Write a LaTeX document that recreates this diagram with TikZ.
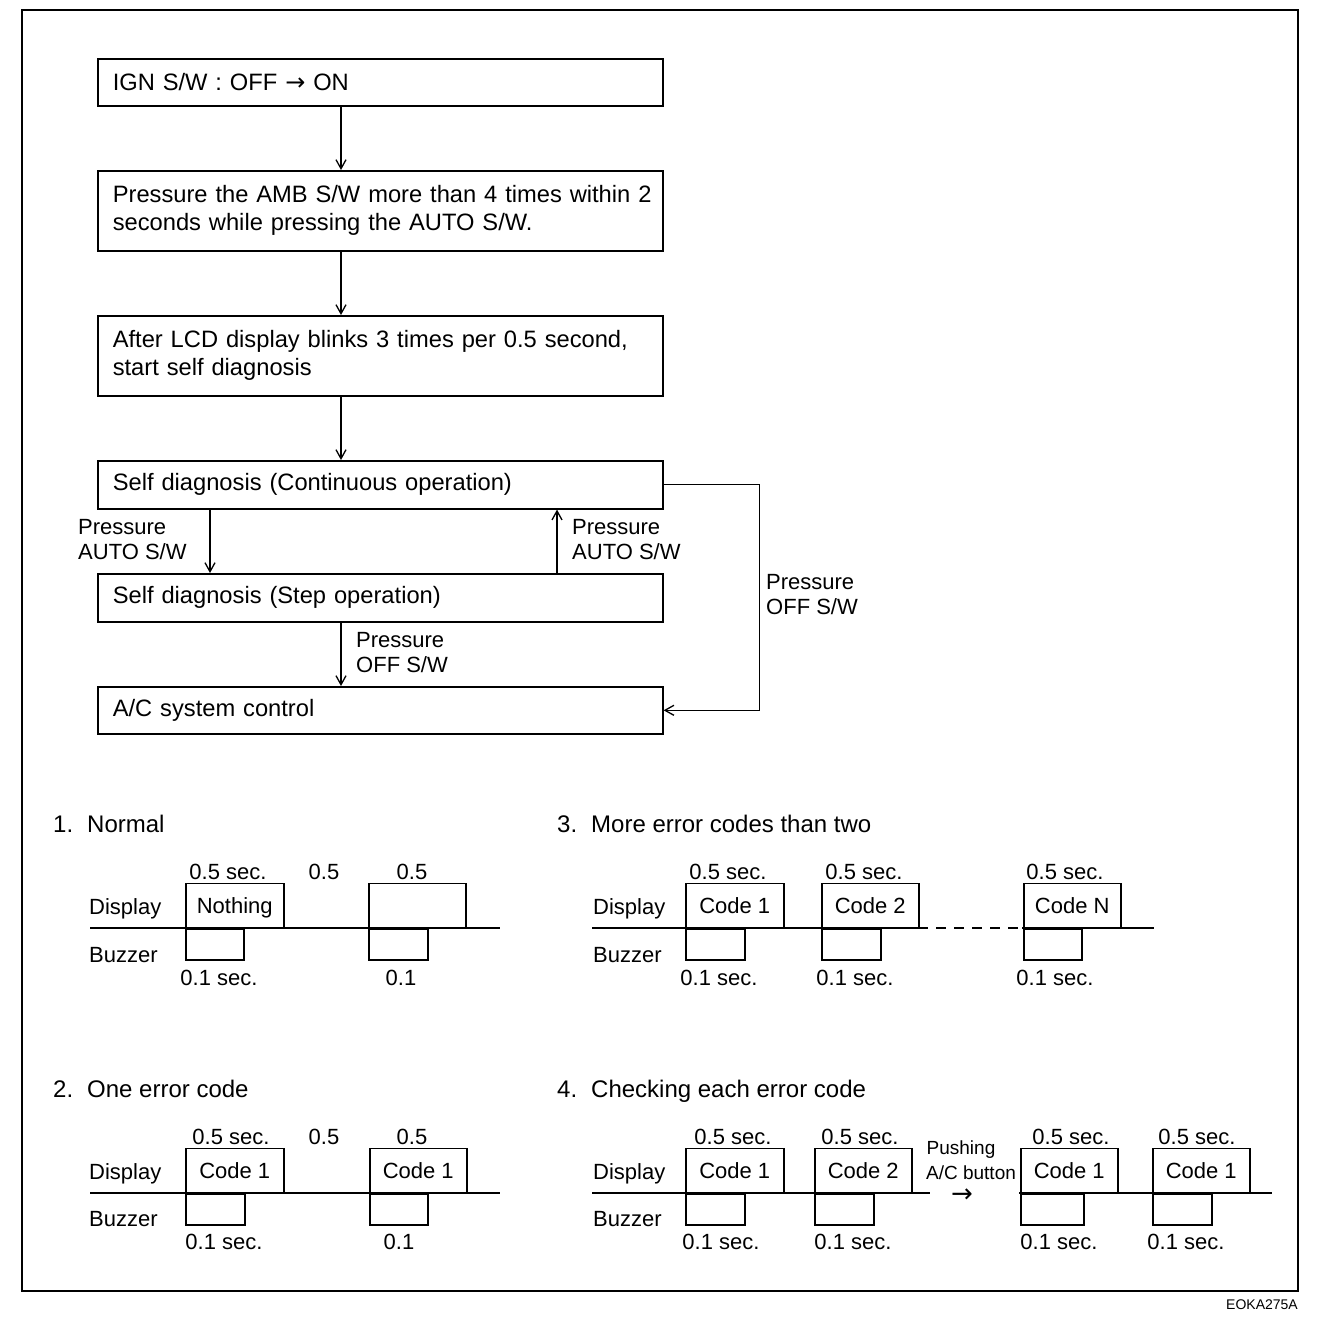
\documentclass[tikz,border=0pt]{standalone}
\usepackage{fontspec}
\setmainfont{Liberation Sans}
\newfontfamily\arrowfont{DejaVu Sans}
\usetikzlibrary{arrows.meta}
\begin{document}
\begin{tikzpicture}[x=1pt,y=-1pt,
  box/.style={draw, line width=1.6pt, anchor=north west, minimum width=565pt, text width=535pt, align=left, inner xsep=15pt, inner ysep=0pt, font=\fontsize{23.7}{28}\selectfont},
  conn/.style={line width=1.3pt, -{Straight Barb[length=9pt,width=10pt,line width=1.3pt]}},
  lbl/.style={anchor=west, align=left, inner sep=0pt, font=\fontsize{22}{25}\selectfont},
  head/.style={anchor=west, inner sep=0pt, text height=17pt, text depth=0pt, font=\fontsize{24}{28}\selectfont},
  disp/.style={draw, line width=1.5pt, anchor=south west, minimum height=44pt, inner sep=0pt, text height=16pt, text depth=0pt, font=\fontsize{22}{26}\selectfont},
  buzz/.style={draw, line width=1.5pt, anchor=north west, minimum height=31pt, inner sep=0pt},
  base/.style={line width=2.6pt},
  tl/.style={inner sep=0pt, text height=16pt, text depth=0pt, font=\fontsize{22}{26}\selectfont},
  tlw/.style={tl, anchor=west}
]
\useasboundingbox (0,0) rectangle (1328,1326);
\draw[line width=1.5pt] (22,10) rectangle (1298,1291);
\node[anchor=east, inner sep=0pt, font=\fontsize{14}{16}\selectfont] (code) at (1298,1305) {EOKA275A};

% ---------------- flowchart ----------------
\node[box, minimum height=47pt] (b1) at (97,58) {IGN S/W : OFF {\arrowfont\fontsize{24}{24}\selectfont →} ON};
\node[box, minimum height=80pt] (b2) at (97,170) {\mbox{Pressure the AMB S/W more than 4 times within 2}\\\mbox{seconds while pressing the AUTO S/W.}};
\node[box, minimum height=80pt] (b3) at (97,315) {\mbox{After LCD display blinks 3 times per 0.5 second,}\\\mbox{start self diagnosis}};
\node[box, minimum height=48pt] (b4) at (97,460) {Self diagnosis (Continuous operation)};
\node[box, minimum height=48pt] (b5) at (97,573) {Self diagnosis (Step operation)};
\node[box, minimum height=47pt] (b6) at (97,686) {A/C system control};

\coordinate (cx) at (341,0);
\coordinate (lx) at (210,0);
\coordinate (rx) at (557,0);
\draw[conn] (b1.south -| cx) -- (b2.north -| cx);
\draw[conn] (b2.south -| cx) -- (b3.north -| cx);
\draw[conn] (b3.south -| cx) -- (b4.north -| cx);
\draw[conn] (b4.south -| lx) -- (b5.north -| lx);
\draw[conn] (b5.north -| rx) -- (b4.south -| rx);
\draw[conn] (b5.south -| cx) -- (b6.north -| cx);
\draw[conn] (b4.east) -- ++(96,0) |- (b6.east);

\node[lbl] (l1) at (78,539.5) {Pressure\\AUTO S/W};
\node[lbl] (l2) at (572,539.5) {Pressure\\AUTO S/W};
\node[lbl] (l3) at (766,594.5) {Pressure\\OFF S/W};
\node[lbl] (l4) at (356,652.5) {Pressure\\OFF S/W};

% ---------------- 1. Normal ----------------
\node[head] (h1) at (53,824) {\makebox[34pt][l]{1.}Normal};
\node[disp, minimum width=98pt] (n1d1) at (185,928) {Nothing};
\node[disp, minimum width=97pt] (n1d2) at (368,928) {};
\node[buzz, minimum width=58pt] (n1b1) at (185,928) {};
\node[buzz, minimum width=59pt] (n1b2) at (368,928) {};
\draw[base] (90,928) -- (500,928);
\node[tl] (n1t1) at (228,871) {0.5 sec.};
\node[tl] (n1t2) at (324,871) {0.5};
\node[tl] (n1t3) at (412,871) {0.5};
\node[tlw] (n1dl) at (89,906) {Display};
\node[tlw] (n1bl) at (89,954) {Buzzer};
\node[tl] (n1u1) at (219,977) {0.1 sec.};
\node[tl] (n1u2) at (401,977) {0.1};

% ---------------- 2. One error code ----------------
\node[head] (h2) at (53,1089) {\makebox[34pt][l]{2.}One error code};
\node[disp, minimum width=98pt] (n2d1) at (185,1193) {Code 1};
\node[disp, minimum width=97pt] (n2d2) at (369,1193) {Code 1};
\node[buzz, minimum width=59pt] (n2b1) at (185,1193) {};
\node[buzz, minimum width=58pt] (n2b2) at (369,1193) {};
\draw[base] (90,1193) -- (500,1193);
\node[tl] (n2t1) at (231,1136) {0.5 sec.};
\node[tl] (n2t2) at (324,1136) {0.5};
\node[tl] (n2t3) at (412,1136) {0.5};
\node[tlw] (n2dl) at (89,1171) {Display};
\node[tlw] (n2bl) at (89,1218) {Buzzer};
\node[tl] (n2u1) at (224,1241) {0.1 sec.};
\node[tl] (n2u2) at (399,1241) {0.1};

% ---------------- 3. More error codes than two ----------------
\node[head] (h3) at (557,824) {\makebox[34pt][l]{3.}More error codes than two};
\node[disp, minimum width=98pt] (n3d1) at (685,928) {Code 1};
\node[disp, minimum width=97pt] (n3d2) at (821,928) {Code 2};
\node[disp, minimum width=97pt] (n3d3) at (1023,928) {Code N};
\node[buzz, minimum width=59pt] (n3b1) at (685,928) {};
\node[buzz, minimum width=59pt] (n3b2) at (821,928) {};
\node[buzz, minimum width=58pt] (n3b3) at (1023,928) {};
\draw[base] (592,928) -- (918,928);
\draw[line width=1.5pt, dash pattern=on 10pt off 8pt] (918,928) -- (1022,928);
\draw[base] (1022,928) -- (1154,928);
\node[tl] (n3t1) at (728,871) {0.5 sec.};
\node[tl] (n3t2) at (864,871) {0.5 sec.};
\node[tl] (n3t3) at (1065,871) {0.5 sec.};
\node[tlw] (n3dl) at (593,906) {Display};
\node[tlw] (n3bl) at (593,954) {Buzzer};
\node[tl] (n3u1) at (719,977) {0.1 sec.};
\node[tl] (n3u2) at (855,977) {0.1 sec.};
\node[tl] (n3u3) at (1055,977) {0.1 sec.};

% ---------------- 4. Checking each error code ----------------
\node[head] (h4) at (557,1089) {\makebox[34pt][l]{4.}Checking each error code};
\node[disp, minimum width=98pt] (n4d1) at (685,1193) {Code 1};
\node[disp, minimum width=97pt] (n4d2) at (814,1193) {Code 2};
\node[disp, minimum width=97pt] (n4d3) at (1020,1193) {Code 1};
\node[disp, minimum width=97pt] (n4d4) at (1152,1193) {Code 1};
\node[buzz, minimum width=59pt] (n4b1) at (685,1193) {};
\node[buzz, minimum width=59pt] (n4b2) at (814,1193) {};
\node[buzz, minimum width=63pt] (n4b3) at (1020,1193) {};
\node[buzz, minimum width=59pt] (n4b4) at (1152,1193) {};
\draw[base] (592,1193) -- (930,1193);
\draw[base] (1019,1193) -- (1272,1193);
\node[tl] (n4t1) at (733,1136) {0.5 sec.};
\node[tl] (n4t2) at (860,1136) {0.5 sec.};
\node[tl] (n4t3) at (1071,1136) {0.5 sec.};
\node[tl] (n4t4) at (1197,1136) {0.5 sec.};
\node[inner sep=0pt, font=\fontsize{19}{23}\selectfont] (push1) at (961,1150) {Pushing};
\node[inner sep=0pt, font=\fontsize{19}{23}\selectfont] (push2) at (971,1173) {A/C button};
\node[inner sep=0pt, font=\arrowfont\fontsize{26}{26}\selectfont] (push3) at (962,1196) {→};
\node[tlw] (n4dl) at (593,1171) {Display};
\node[tlw] (n4bl) at (593,1218) {Buzzer};
\node[tl] (n4u1) at (721,1241) {0.1 sec.};
\node[tl] (n4u2) at (853,1241) {0.1 sec.};
\node[tl] (n4u3) at (1059,1241) {0.1 sec.};
\node[tl] (n4u4) at (1186,1241) {0.1 sec.};
\end{tikzpicture}
\end{document}
